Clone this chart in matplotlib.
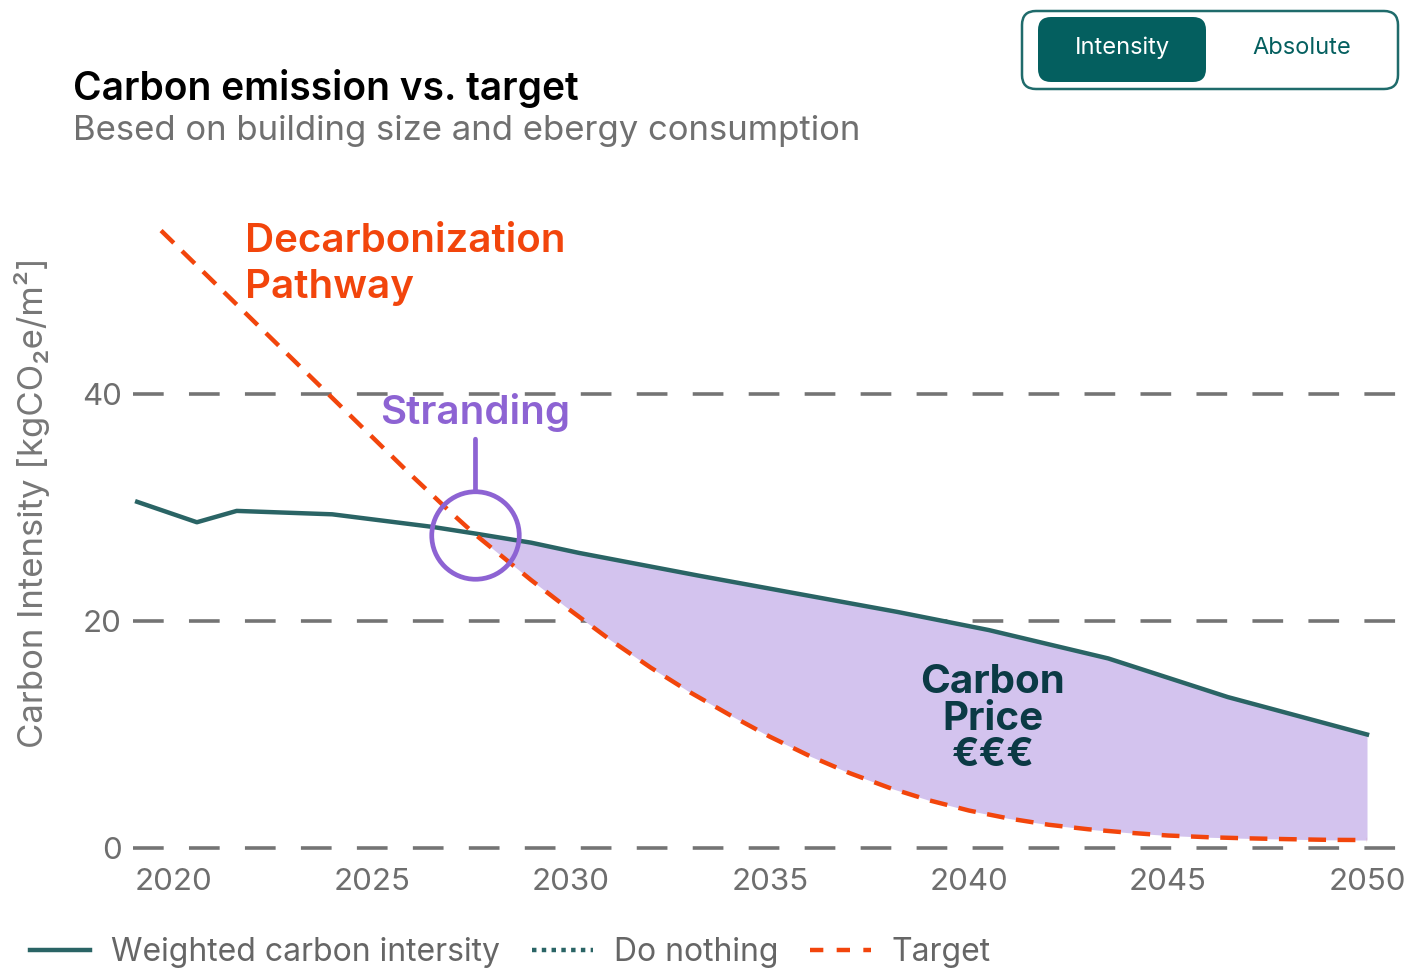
import numpy as np
import matplotlib
matplotlib.use('Agg')
import matplotlib.pyplot as plt
from matplotlib.lines import Line2D
from matplotlib.patches import FancyBboxPatch

# data
years_w = [2019.1, 2020.6, 2021.6, 2024.0, 2026.5, 2027.6, 2029.0, 2030.2, 2033.2,
           2035.7, 2038.2, 2040.5, 2043.5, 2046.5, 2050.0]
vals_w = [30.5, 28.7, 29.7, 29.4, 28.3, 27.7, 26.9, 26.0, 24.0,
          22.4, 20.8, 19.2, 16.7, 13.3, 10.0]
years_t = [2019.7, 2026.0, 2027.0, 2027.6, 2029.0, 2030.0, 2031.0, 2032.0, 2033.0,
           2034.0, 2035.0, 2036.0, 2037.0, 2038.0, 2039.0, 2040.0, 2041.0, 2042.0,
           2043.0, 2044.0, 2045.0, 2046.0, 2047.0, 2048.0, 2049.0, 2050.0]
vals_t = [54.4, 32.8, 29.5, 27.6, 23.6, 20.9, 18.3, 15.9, 13.7,
          11.7, 9.8, 8.1, 6.6, 5.3, 4.2, 3.3, 2.6, 2.05,
          1.65, 1.35, 1.1, 0.95, 0.85, 0.78, 0.72, 0.7]
stranding = (2027.6, 27.6)
xticks = [2020, 2025, 2030, 2035, 2040, 2045, 2050]
yticks = [0, 20, 40]

W, H = 1412, 974
TEAL = '#2a6465'
ORANGE = '#f2450c'
PURPLE = '#8d63d3'
FILL = '#d3c3ee'
GRAY = '#6e6e6e'

plt.rcParams['font.family'] = ['Inter', 'DejaVu Sans']

fig = plt.figure(figsize=(W / 100, H / 100), dpi=100)

def fx(x):
    return x / W

def fy(y):
    return 1 - y / H

# axes placed so that years/values land where they are in the reference
ppy, x2020 = 39.8, 173
ppv, y0 = 11.35, 848
ax_l, ax_r = 133, 1400
ylo, yhi = -1.0, 56.0
ax = fig.add_axes([fx(ax_l), fy(y0 - ylo * ppv),
                   (ax_r - ax_l) / W, (yhi - ylo) * ppv / H])
ax.set_xlim(2020 + (ax_l - x2020) / ppy, 2020 + (ax_r - x2020) / ppy)
ax.set_ylim(ylo, yhi)

for yv in yticks:
    ax.axhline(yv, color='#747474', lw=2.6, dashes=(8.5, 7), zorder=1)

# fill between the two curves after they cross
grid = np.union1d(years_w, years_t)
grid = grid[grid >= stranding[0]]
w_i = np.interp(grid, years_w, vals_w)
t_i = np.interp(grid, years_t, vals_t)
ax.fill_between(grid, t_i, w_i, where=w_i >= t_i, color=FILL, lw=0, zorder=2)

ax.plot(years_w, vals_w, color=TEAL, lw=3.2, zorder=3)
ax.plot(years_t, vals_t, color=ORANGE, lw=3.2, dashes=(4, 2.6), zorder=4)

ax.plot(*stranding, marker='o', ms=63, mfc='none', mec=PURPLE, mew=3.4, zorder=5)
ax.annotate('Stranding', xy=stranding, xytext=(0, 122), textcoords='offset pixels',
            ha='center', va='center', fontsize=29, color=PURPLE, fontweight='semibold',
            arrowprops=dict(arrowstyle='-', color=PURPLE, lw=3.4, shrinkA=3, shrinkB=31.5))

ax.set_xticks(xticks)
ax.set_yticks(yticks)
ax.tick_params(length=0, labelsize=22.5, labelcolor=GRAY, pad=8)
ax.tick_params(axis='x', pad=6)
for s in ax.spines.values():
    s.set_visible(False)

ax.text(fx(245), fy(223), 'Decarbonization\nPathway', color=ORANGE, fontsize=29,
        fontweight='semibold', ha='left', va='top', linespacing=1.32,
        transform=fig.transFigure)
ax.text(fx(993), fy(719), 'Carbon\nPrice\n€€€', color='#0b3a45', fontsize=29,
        fontweight='bold', ha='center', va='center', linespacing=0.97,
        transform=fig.transFigure)

fig.text(fx(32), fy(503), 'Carbon Intensity [kgCO₂e/m²]', rotation=90, color='#777777',
         fontsize=25, ha='center', va='center')

fig.text(fx(73), fy(88), 'Carbon emission vs. target', fontsize=28, fontweight='semibold',
         color='black', va='center')
fig.text(fx(73), fy(131), 'Besed on building size and ebergy consumption', fontsize=25,
         color='#707070', va='center')

# Intensity / Absolute toggle, drawn in pixel space
ov = fig.add_axes([0, 0, 1, 1], zorder=-1)
ov.set_xlim(0, W)
ov.set_ylim(H, 0)
ov.axis('off')
ov.add_patch(FancyBboxPatch((1022 + 14, 11 + 14), 376 - 28, 78 - 28,
                            boxstyle='round,pad=14', fc='white', ec='#1f6b6b', lw=1.8))
ov.add_patch(FancyBboxPatch((1038 + 13, 17 + 13), 168 - 26, 65 - 26,
                            boxstyle='round,pad=13', fc='#045f5f', ec='none'))
ov.text(1122, 48, 'Intensity', color='white', fontsize=17, ha='center', va='center')
ov.text(1302, 48, 'Absolute', color='#045f5f', fontsize=17, ha='center', va='center')

handles = [Line2D([], [], color=TEAL, lw=3.2),
           Line2D([], [], color=TEAL, lw=3.2, dashes=(1, 1.2)),
           Line2D([], [], color=ORANGE, lw=3.2, dashes=(3, 3))]
labels = ['Weighted carbon intersity', 'Do nothing', 'Target']
fig.legend(handles, labels, loc='center left', bbox_to_anchor=(fx(1), fy(953)),
           ncol=3, frameon=False, fontsize=23, labelcolor='#666666',
           handlelength=1.9, handletextpad=0.65, columnspacing=1.0)

fig.savefig('out.png', dpi=100)
